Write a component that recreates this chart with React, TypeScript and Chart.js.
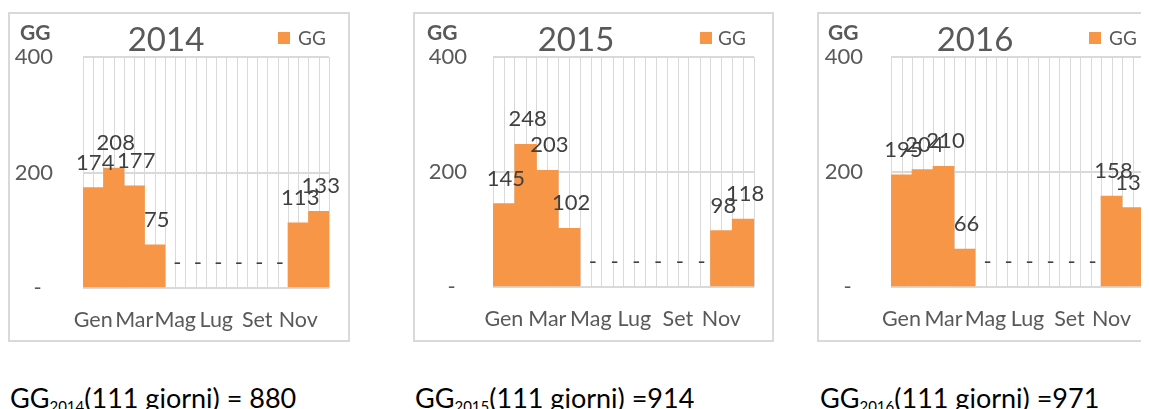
import { useEffect, useRef } from "react";
import { Chart, registerables } from "chart.js";

Chart.register(...registerables);

const months = ["Gen", "Feb", "Mar", "Apr", "Mag", "Giu", "Lug", "Ago", "Set", "Ott", "Nov", "Dic"];
const years = ["2014", "2015", "2016"];
const gg2014 = [174, 208, 177, 75, 0, 0, 0, 0, 0, 0, 113, 133];
const gg2015 = [145, 248, 203, 102, 0, 0, 0, 0, 0, 0, 98, 118];
const gg2016 = [195, 204, 210, 66, 0, 0, 0, 0, 0, 0, 158, 138];
const totals = [880, 914, 971];
const dayCounts = [111, 111, 111];
const equalsText = ["= ", "=", "="];
const yTicks = [0, 200, 400];
const seriesName = "GG";

const seriesByYear = [gg2014, gg2015, gg2016];

const FONT = "Lato, 'Open Sans', sans-serif";
const ORANGE = "#F79646";
const GRID = "#d9d9d9";
const TEXT = "#595959";

type PanelLayout = {
  left: number;
  width: number;
  plotLeft: number;
  plotRight: number;
  plotBottom: number;
  tickPad: number;
  titleX: number;
  legendSqX: number;
  legendTextX: number;
  yTitleX: number;
  textLeft: number;
};

const layouts: PanelLayout[] = [
  { left: 0, width: 342, plotLeft: 73, plotRight: 319, plotBottom: 274, tickPad: 30, titleX: 156, legendSqX: 268, legendTextX: 288, yTitleX: 10, textLeft: 2 },
  { left: 405, width: 361, plotLeft: 78, plotRight: 339, plotBottom: 273, tickPad: 26, titleX: 161, legendSqX: 285, legendTextX: 303, yTitleX: 12, textLeft: 407 },
  { left: 809, width: 342, plotLeft: 72, plotRight: 324, plotBottom: 273, tickPad: 28, titleX: 156, legendSqX: 270, legendTextX: 290, yTitleX: 9, textLeft: 812 },
];

const PANEL_TOP = 4;
const PANEL_H = 330;
const PLOT_TOP = 43;

function MiniChart({ idx }: { idx: number }) {
  const ref = useRef<HTMLCanvasElement | null>(null);
  const L = layouts[idx];
  const W = L.width - 4;
  const H = PANEL_H - 4;

  useEffect(() => {
    if (!ref.current) return;
    const values = seriesByYear[idx];
    const overlay = {
      id: "overlay" + idx,
      beforeDatasetsDraw(chart: any) {
        const ctx = chart.ctx;
        const xs = chart.scales.x;
        const area = chart.chartArea;
        ctx.save();
        ctx.strokeStyle = GRID;
        ctx.lineWidth = 1;
        for (let i = 0; i < months.length; i++) {
          const x = Math.round(xs.getPixelForValue(i)) + 0.5;
          ctx.beginPath();
          ctx.moveTo(x, area.top);
          ctx.lineTo(x, area.bottom);
          ctx.stroke();
        }
        ctx.restore();
      },
      afterDatasetsDraw(chart: any) {
        const ctx = chart.ctx;
        const meta = chart.getDatasetMeta(0);
        const data = chart.data.datasets[0].data as number[];
        ctx.save();
        ctx.font = `22px ${FONT}`;
        ctx.fillStyle = "#404040";
        ctx.textAlign = "center";
        ctx.textBaseline = "alphabetic";
        meta.data.forEach((el: any, i: number) => {
          const v = data[i];
          ctx.fillText(v === 0 ? "-" : String(v), el.x + 2, el.y - 18);
        });
        // title
        ctx.fillStyle = TEXT;
        ctx.font = `33px ${FONT}`;
        ctx.fillText(years[idx], L.titleX, 37);
        // y title
        ctx.textAlign = "left";
        ctx.font = `bold 21px ${FONT}`;
        ctx.fillText(seriesName, L.yTitleX, 26);
        // legend
        ctx.fillStyle = ORANGE;
        ctx.fillRect(L.legendSqX, 18, 12, 12);
        ctx.fillStyle = TEXT;
        ctx.font = `19px ${FONT}`;
        ctx.fillText(seriesName, L.legendTextX, 31);
        ctx.restore();
      },
    };

    const chart = new Chart(ref.current, {
      type: "bar",
      data: {
        labels: months,
        datasets: [
          {
            label: seriesName,
            data: values,
            backgroundColor: (c: any) => (c.raw === 0 ? "rgba(0,0,0,0)" : ORANGE),
            borderWidth: 0,
            barPercentage: 1,
            categoryPercentage: 1,
          },
        ],
      },
      options: {
        responsive: false,
        animation: false,
        devicePixelRatio: 1,
        layout: { padding: { top: PLOT_TOP, right: W - L.plotRight, left: 0, bottom: 0 } },
        plugins: {
          legend: { display: false },
          title: { display: false },
          tooltip: { enabled: false },
        },
        scales: {
          x: {
            offset: true,
            grid: { offset: true, color: GRID, lineWidth: 1, drawTicks: false },
            border: { display: false },
            ticks: {
              autoSkip: false,
              maxRotation: 0,
              padding: 19,
              color: TEXT,
              font: { family: FONT, size: 21.5 },
              callback: (_v: any, i: number) => (i % 2 === 0 ? months[i] : ""),
            },
            afterFit: (s: any) => {
              s.height = H - L.plotBottom;
            },
          },
          y: {
            min: yTicks[0],
            max: yTicks[yTicks.length - 1],
            afterBuildTicks: (s: any) => {
              s.ticks = yTicks.map((v) => ({ value: v }));
            },
            grid: { color: GRID, lineWidth: 2, drawTicks: false },
            border: { display: false },
            ticks: {
              padding: L.tickPad,
              color: TEXT,
              font: { family: FONT, size: 22 },
              callback: (v: any) => (Number(v) === 0 ? "-  " : String(v)),
            },
            afterFit: (s: any) => {
              s.width = L.plotLeft;
            },
          },
        },
      },
      plugins: [overlay],
    });
    return () => chart.destroy();
  }, [idx]);

  return (
    <div
      style={{
        position: "absolute",
        left: L.left,
        top: PANEL_TOP,
        width: L.width,
        height: PANEL_H,
        border: `2px solid ${GRID}`,
        boxSizing: "border-box",
        background: "#fff",
      }}
    >
      <canvas ref={ref} width={W} height={H} style={{ display: "block", width: W, height: H }} />
    </div>
  );
}

export default function App() {
  useEffect(() => {
    document.body.style.overflow = "hidden";
  }, []);
  return (
    <div style={{ position: "relative", width: 1141, height: 401, overflow: "hidden", background: "#fff" }}>
      {layouts.map((_, i) => (
        <MiniChart key={i} idx={i} />
      ))}
      {layouts.map((L, i) => (
        <div
          key={"t" + i}
          style={{
            position: "absolute",
            left: L.textLeft,
            top: 376,
            fontFamily: FONT,
            fontSize: 27,
            lineHeight: "27px",
            color: "#000",
            whiteSpace: "nowrap",
          }}
        >
          {seriesName}
          <span style={{ fontSize: 15, verticalAlign: "-4px" }}>{years[i]}</span>
          {`(${dayCounts[i]} giorni) ${equalsText[i]}${totals[i]}`}
        </div>
      ))}
    </div>
  );
}
